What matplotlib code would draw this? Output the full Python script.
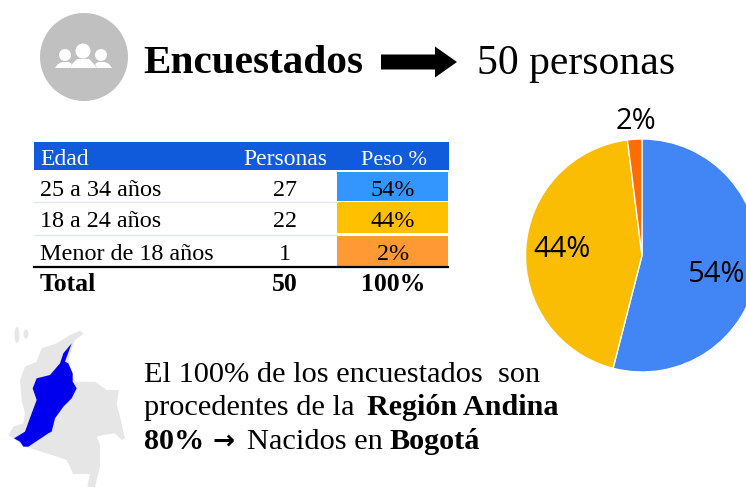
import matplotlib
matplotlib.use('Agg')
import matplotlib.pyplot as plt
from matplotlib.patches import Circle, Ellipse, Polygon, Rectangle, FancyArrow

# Datos
edades = ['25 a 34 años', '18 a 24 años', 'Menor de 18 años']
personas = [27, 22, 1]
pesos = [54, 44, 2]
total_personas = 50
total_peso = 100

colores_tabla = ['#3396FF', '#FFC000', '#FF9933']
colores_pie = ['#4285F4', '#FBBC04', '#FF6D01']

# Contornos del mapa (decoracion, coordenadas del recorte 3x)
mapa_gris = [(240, 32), (250, 42), (225, 60), (215, 85), (205, 125), (225, 185), (285, 185),
             (320, 210), (357, 210), (350, 250), (360, 290), (375, 355), (365, 360), (345, 340),
             (310, 345), (290, 350), (300, 375), (300, 440), (285, 501), (262, 501), (270, 462),
             (220, 462), (200, 420), (140, 400), (75, 380), (25, 345), (40, 320), (70, 310),
             (75, 280), (65, 240), (60, 180), (75, 140), (110, 125), (125, 85), (170, 70), (210, 45)]
mapa_azul = [(215, 70), (195, 125), (205, 130), (218, 160), (218, 185), (230, 205), (215, 235),
             (190, 260), (165, 295), (155, 335), (145, 340), (130, 350), (85, 380), (70, 380),
             (60, 365), (42, 355), (75, 335), (95, 280), (110, 240), (98, 205), (110, 175),
             (150, 165), (180, 130), (190, 100)]

SERIF = 'Liberation Serif'
W, H = 746, 487

fig = plt.figure(figsize=(W / 100, H / 100), dpi=100)
ax = fig.add_axes([0, 0, 1, 1])
ax.set_xlim(0, W)
ax.set_ylim(H, 0)
ax.axis('off')
ax.set_zorder(5)


def texto(x, y, s, size, weight='normal', ha='left', color='black', family=SERIF):
    ax.text(x, y, s, fontsize=size, fontweight=weight, ha=ha, va='baseline', color=color, family=family)


# Icono
ax.add_patch(Circle((84, 57), 44, color='#C0C0C0', lw=0))
for cx, cy, r in [(65, 55, 6), (101, 55, 6), (83, 51, 7.5)]:
    ax.add_patch(Circle((cx, cy), r, color='white', lw=0))
ax.add_patch(Polygon([(55, 68), (58, 64), (62, 62), (69, 62), (72, 64), (70, 68)], color='white', lw=0))
ax.add_patch(Polygon([(112, 68), (109, 64), (105, 62), (98, 62), (95, 64), (97, 68)], color='white', lw=0))
ax.add_patch(Polygon([(70, 68), (73, 63), (77, 59), (89, 59), (93, 63), (97, 68)], color='white', lw=0))

# Titulo
texto(143, 73, 'Encuestados', 29.7, 'bold')
ax.add_patch(FancyArrow(381, 62, 76, 0, width=15, head_width=31, head_length=22,
                        length_includes_head=True, color='black', lw=0))
texto(477, 74, '50 personas', 30)

# Tabla
ax.add_patch(Rectangle((34, 142), 415, 28, color='#0F5BDB', lw=0))
texto(40, 165, 'Edad', 17, color='white')
texto(285, 165, 'Personas', 17, ha='center', color='white')
texto(394, 165, 'Peso %', 16, ha='center', color='white')

filas_y = [(172, 201, 196), (202, 233, 227), (236, 266, 260)]
for i, (y0, y1, base) in enumerate(filas_y):
    ax.add_patch(Rectangle((337, y0), 111, y1 - y0, color=colores_tabla[i], lw=0))
    texto(40, base, edades[i], 17.4)
    texto(285, base, str(personas[i]), 17.4, ha='center')
    texto(393, base, f'{pesos[i]}%', 17.4, ha='center')
for y in [201.5, 234.5]:
    ax.plot([34, 337], [y, y], color='#DCE6F8', lw=1)
ax.plot([34, 448], [266.5, 266.5], color='black', lw=1.6)
texto(40, 291, 'Total', 18.5, 'bold')
texto(285, 291, str(total_personas), 18.5, 'bold', ha='center')
texto(393, 291, f'{total_peso}%', 18.5, 'bold', ha='center')

# Mapa
ax.add_patch(Polygon([(x / 3, y / 3 + 320) for x, y in mapa_gris], color='#E6E6E6', lw=0))
ax.add_patch(Polygon([(x / 3, y / 3 + 320) for x, y in mapa_azul], color='#0000EE', lw=0))
ax.add_patch(Ellipse((17, 335), 5, 16, color='#E6E6E6', lw=0))
ax.add_patch(Ellipse((26, 334), 5, 9, color='#E6E6E6', lw=0))

# Texto inferior
texto(144, 382, 'El 100% de los encuestados  son', 21.9)
texto(144, 415, 'procedentes de la ', 21.9)
texto(367, 415, 'Región Andina', 21.7, 'bold')
texto(144, 449, '80%', 21.7, 'bold')
texto(212, 449, '→', 19, 'bold', family='DejaVu Sans')
texto(247, 449, 'Nacidos en ', 21.9)
texto(390, 449, 'Bogotá', 21.7, 'bold')

# Pie
cx, cy, r = 642, 255.5, 116.5
ax_pie = fig.add_axes([(cx - r) / W, 1 - (cy + r) / H, 2 * r / W, 2 * r / H])
ax_pie.pie(pesos, colors=colores_pie, startangle=90, counterclock=False, radius=1,
           wedgeprops={'edgecolor': 'white', 'linewidth': 1})
ax_pie.set_xlim(-1, 1)
ax_pie.set_ylim(-1, 1)

# Etiquetas del pie
texto(744.5, 282, f'{pesos[0]}%', 21, ha='right', family='Open Sans')
texto(562, 257, f'{pesos[1]}%', 21, ha='center', family='Open Sans')
texto(636, 129, f'{pesos[2]}%', 21, ha='center', family='Open Sans')

fig.savefig('out.png', dpi=100)
